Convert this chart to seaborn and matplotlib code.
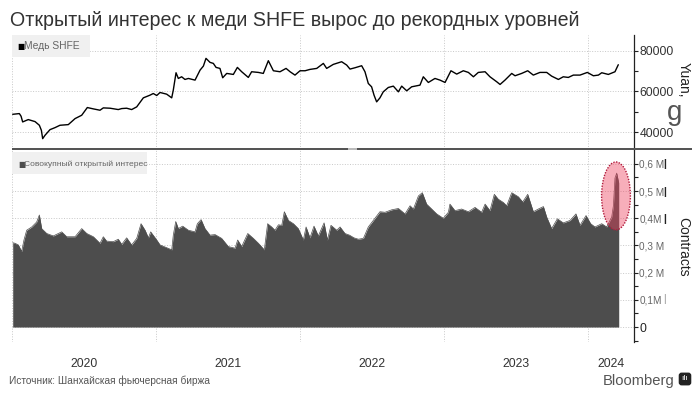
import matplotlib
matplotlib.use("Agg")
import matplotlib.pyplot as plt
from matplotlib.patches import Ellipse, Rectangle
from matplotlib.ticker import FixedLocator
import seaborn as sns

# decimal years
price_t = [2020.005, 2020.051, 2020.063, 2020.074, 2020.113, 2020.160, 2020.190, 2020.204, 2020.213, 2020.229,
           2020.264, 2020.299, 2020.333, 2020.391, 2020.438, 2020.484, 2020.523, 2020.565, 2020.611, 2020.634,
           2020.681, 2020.738, 2020.762, 2020.796, 2020.831, 2020.866, 2020.912, 2020.958, 2020.981, 2021.005,
           2021.028, 2021.074, 2021.109, 2021.120, 2021.139, 2021.155, 2021.178, 2021.201, 2021.225, 2021.271,
           2021.306, 2021.329, 2021.347, 2021.375, 2021.398, 2021.417, 2021.444, 2021.463, 2021.491, 2021.537,
           2021.565, 2021.595, 2021.641, 2021.664, 2021.711, 2021.745, 2021.780, 2021.815, 2021.861, 2021.903,
           2021.931, 2021.965, 2022.000, 2022.035, 2022.069, 2022.116, 2022.162, 2022.185, 2022.231, 2022.289,
           2022.324, 2022.347, 2022.382, 2022.428, 2022.451, 2022.474, 2022.497, 2022.514, 2022.532, 2022.555,
           2022.578, 2022.613, 2022.648, 2022.683, 2022.706, 2022.741, 2022.775, 2022.833, 2022.856, 2022.891,
           2022.937, 2022.972, 2023.007, 2023.048, 2023.088, 2023.134, 2023.169, 2023.204, 2023.238, 2023.285,
           2023.319, 2023.366, 2023.389, 2023.423, 2023.470, 2023.493, 2023.539, 2023.581, 2023.620, 2023.666,
           2023.713, 2023.747, 2023.794, 2023.828, 2023.863, 2023.898, 2023.944, 2023.995, 2024.037, 2024.072,
           2024.095, 2024.141, 2024.187, 2024.210]
price_v = [48800, 49160, 47850, 45060, 46210, 45220, 43420, 40950, 36850, 38490,
           41280, 42270, 43420, 43740, 46700, 48340, 52120, 51460, 50800, 51950,
           51790, 51130, 51620, 51790, 51130, 52450, 56880, 58190, 59010, 58030,
           59510, 58690, 56880, 60660, 69200, 66400, 67220, 65910, 66400, 65580,
           70510, 72480, 76260, 74290, 73790, 71820, 71330, 66730, 68870, 68370,
           71820, 69690, 66900, 69690, 69360, 68870, 75110, 70180, 69690, 71330,
           69690, 68050, 70180, 70180, 70840, 71330, 73790, 71330, 73300, 74610,
           72970, 71000, 71660, 72640, 69690, 63940, 62300, 58190, 54910, 56880,
           59840, 61970, 62630, 59840, 62630, 60330, 62300, 63120, 67220, 64430,
           66400, 65580, 64430, 70180, 68540, 70180, 69360, 67220, 69360, 69690,
           67220, 64760, 63450, 65580, 68870, 67720, 68870, 70180, 68050, 69360,
           69360, 67550, 65910, 67220, 66900, 68050, 68050, 69360, 67720, 68050,
           69200, 68370, 69690, 73140]

oi_t = [2020.005, 2020.021, 2020.044, 2020.067, 2020.083, 2020.102, 2020.137, 2020.171, 2020.190, 2020.206,
        2020.241, 2020.287, 2020.345, 2020.380, 2020.438, 2020.484, 2020.519, 2020.565, 2020.611, 2020.634,
        2020.657, 2020.704, 2020.738, 2020.762, 2020.796, 2020.831, 2020.866, 2020.896, 2020.924, 2020.947,
        2020.963, 2021.005, 2021.028, 2021.074, 2021.109, 2021.120, 2021.137, 2021.155, 2021.185, 2021.225,
        2021.271, 2021.287, 2021.313, 2021.340, 2021.375, 2021.410, 2021.456, 2021.502, 2021.549, 2021.567,
        2021.595, 2021.637, 2021.676, 2021.711, 2021.752, 2021.775, 2021.803, 2021.826, 2021.850, 2021.873,
        2021.891, 2021.919, 2021.954, 2021.988, 2022.023, 2022.042, 2022.069, 2022.097, 2022.127, 2022.167,
        2022.190, 2022.215, 2022.255, 2022.278, 2022.312, 2022.343, 2022.375, 2022.405, 2022.440, 2022.474,
        2022.509, 2022.555, 2022.590, 2022.636, 2022.683, 2022.729, 2022.764, 2022.787, 2022.822, 2022.849,
        2022.879, 2022.914, 2022.949, 2022.995, 2023.030, 2023.041, 2023.076, 2023.122, 2023.169, 2023.215,
        2023.261, 2023.285, 2023.319, 2023.349, 2023.377, 2023.412, 2023.435, 2023.470, 2023.516, 2023.546,
        2023.581, 2023.620, 2023.655, 2023.690, 2023.713, 2023.747, 2023.787, 2023.828, 2023.875, 2023.916,
        2023.944, 2023.986, 2024.018, 2024.048, 2024.095, 2024.129, 2024.164, 2024.176, 2024.187, 2024.199, 2024.213]
oi_v = [0.310, 0.308, 0.302, 0.278, 0.320, 0.356, 0.368, 0.386, 0.412, 0.362,
        0.344, 0.335, 0.350, 0.332, 0.332, 0.362, 0.344, 0.332, 0.308, 0.332,
        0.316, 0.314, 0.323, 0.304, 0.328, 0.302, 0.326, 0.380, 0.356, 0.328,
        0.350, 0.320, 0.302, 0.292, 0.284, 0.338, 0.388, 0.362, 0.371, 0.356,
        0.350, 0.380, 0.395, 0.362, 0.338, 0.340, 0.326, 0.296, 0.290, 0.320,
        0.296, 0.344, 0.326, 0.308, 0.284, 0.380, 0.368, 0.356, 0.376, 0.374,
        0.424, 0.392, 0.380, 0.362, 0.320, 0.368, 0.328, 0.371, 0.335, 0.383,
        0.320, 0.374, 0.356, 0.368, 0.344, 0.338, 0.328, 0.323, 0.326, 0.368,
        0.392, 0.424, 0.422, 0.431, 0.436, 0.416, 0.446, 0.434, 0.482, 0.494,
        0.452, 0.434, 0.416, 0.400, 0.422, 0.452, 0.428, 0.434, 0.424, 0.440,
        0.422, 0.452, 0.428, 0.488, 0.470, 0.458, 0.446, 0.494, 0.479, 0.460,
        0.488, 0.424, 0.434, 0.443, 0.404, 0.362, 0.398, 0.383, 0.392, 0.416,
        0.374, 0.410, 0.380, 0.368, 0.380, 0.368, 0.404, 0.446, 0.548, 0.566, 0.530]

year_ticks = [2020, 2021, 2022, 2023, 2024]
year_labels = ["2020", "2021", "2022", "2023", "2024"]
year_label_pos = [2020.5, 2021.5, 2022.5, 2023.5, 2024.158]
price_ticks = [40000, 60000, 80000]
price_minor = [50000, 70000]
oi_ticks = [0, 0.1, 0.2, 0.3, 0.4, 0.5, 0.6]
oi_labels = ["0", "0,1M", "0,2 M", "0,3 M", "0,4M", "0,5 M", "0,6 M"]
oi_minor = [-0.05, 0.05, 0.15, 0.25, 0.35, 0.45, 0.55]

W, H = 696, 394
sns.set_theme(style="white")
plt.rcParams["font.family"] = ["Liberation Sans", "DejaVu Sans"]

fig = plt.figure(figsize=(W / 100, H / 100), dpi=100)

def px_axes(x0, y0, x1, y1):
    return fig.add_axes([x0 / W, 1 - y1 / H, (x1 - x0) / W, (y1 - y0) / H])

ax_top = px_axes(12, 35, 633.7, 149)
ax_bot = px_axes(12, 150, 633.7, 342)

sns.lineplot(x=price_t, y=price_v, ax=ax_top, color="black", lw=1.0, errorbar=None)
sns.lineplot(x=oi_t, y=oi_v, ax=ax_bot, color="#4d4d4d", lw=0.5, errorbar=None)
ax_bot.fill_between(oi_t, oi_v, 0, color="#4d4d4d", lw=0, zorder=2)

# red highlight around the spike
ax_bot.add_patch(Ellipse((2024.194, 0.482), 0.2, 0.25, fc="#ee3f5c", alpha=0.42, ec="none", zorder=3))
ax_bot.add_patch(Ellipse((2024.194, 0.482), 0.2, 0.25, fc="none", ec="#b01c3c", ls=(0, (1, 1)), lw=1, zorder=4))

for ax in (ax_top, ax_bot):
    ax.set_xlim(2020, 2024.317)
    ax.set_xlabel("")
    ax.set_ylabel("")
    ax.yaxis.tick_right()
    for s in ("top", "left", "bottom"):
        ax.spines[s].set_visible(False)
    ax.spines["right"].set_color("#222222")
    ax.spines["right"].set_linewidth(0.9)
    ax.set_xticks(year_ticks)
    ax.tick_params(axis="x", length=0, labelbottom=False)
    ax.grid(True, color="#c8c8c8", ls=":", lw=0.7)
    ax.set_axisbelow(True)
    ax.patch.set_alpha(0)

ax_top.set_ylim(31770, 87730)
ax_top.set_yticks(price_ticks)
ax_top.yaxis.set_minor_locator(FixedLocator(price_minor))
ax_top.tick_params(axis="y", which="both", length=3, width=0.8, color="#222222", pad=1,
                   labelsize=8.8, labelcolor="#333333", right=True)

ax_bot.set_ylim(-0.055, 0.651)
ax_bot.set_yticks(oi_ticks)
ax_bot.set_yticklabels(oi_labels)
ax_bot.yaxis.set_minor_locator(FixedLocator(oi_minor))
ax_bot.tick_params(axis="y", which="both", length=3, width=0.8, color="#222222", pad=1,
                   labelsize=7.2, labelcolor="#666666", right=True)
for lab in ax_bot.get_yticklabels():
    if lab.get_text() == "0":
        lab.set_color("#222222")
        lab.set_fontsize(8.8)

def ftext(x, y, s, **kw):
    return fig.text(x / W, 1 - y / H, s, **kw)

def frect(x0, y0, x1, y1, **kw):
    fig.add_artist(Rectangle((x0 / W, 1 - y1 / H), (x1 - x0) / W, (y1 - y0) / H,
                             transform=fig.transFigure, **kw))

for x_lab, lab in zip(year_label_pos, year_labels):
    ax_bot.annotate(lab, (x_lab, 0), xycoords=("data", "axes fraction"), xytext=(0, -22 * 0.72),
                    textcoords="offset points", ha="center", va="center", fontsize=8.8, color="#333333")

ftext(10, 21, "Открытый интерес к меди SHFE вырос до рекордных уровней", fontsize=14.1, color="#333333",
      ha="left", va="center")

# divider between the panels
frect(12, 147.7, 692, 150.5, fc="#555555", ec="none", zorder=5)
frect(348, 147.7, 357, 150.5, fc="#bbbbbb", ec="none", zorder=6)

# series keys
frect(12, 35, 90, 57, fc="#f0f0f0", ec="none", zorder=3)
frect(12, 152, 147, 174, fc="#f0f0f0", ec="none", zorder=3)
ftext(17, 46, "■", fontsize=5.5, color="black", va="center", family="DejaVu Sans", zorder=4)
ftext(24.5, 46, "Медь SHFE", fontsize=7.4, color="#666666", va="center", zorder=4)
ftext(18, 164, "■", fontsize=5.5, color="#4d4d4d", va="center", family="DejaVu Sans", zorder=4)
ftext(24.5, 164, "Совокупный открытый интерес", fontsize=6.1, color="#666666", va="center", zorder=4)

# axis names
ftext(684, 80, "Yuan,", fontsize=10, color="#222222", rotation=-90, ha="center", va="center")
ftext(675, 113, "g", fontsize=20, color="#555555", ha="center", va="center")
ftext(683, 247, "Contracts", fontsize=10, color="#222222", rotation=-90, ha="center", va="center")
for y in (164, 192, 219):
    ftext(664.5, y, "|", fontsize=7.5, color="#222222", ha="center", va="center", weight="bold")
ftext(664.5, 299, "|", fontsize=7.5, color="#999999", ha="center", va="center")

# footer
ftext(9, 381, "Источник: Шанхайская фьючерсная биржа", fontsize=7.3, color="#555555", va="center")
ftext(603, 381, "Bloomberg", fontsize=10.6, color="#555555", va="center")
ftext(685, 379, "ılı", fontsize=6, color="white", ha="center", va="center",
      bbox=dict(boxstyle="round,pad=0.35", fc="#222222", ec="none"))

fig.savefig("out.png", dpi=100)
